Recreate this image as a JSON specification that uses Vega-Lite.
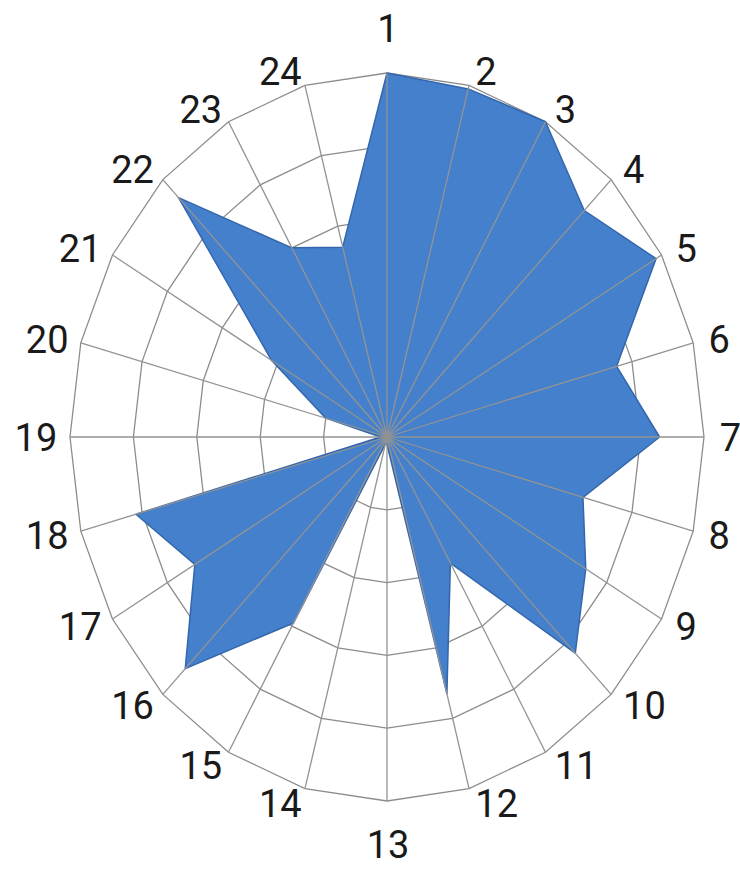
{
  "$schema": "https://vega.github.io/schema/vega-lite/v6.json",
  "width": 634,
  "height": 728,
  "autosize": {"type": "none"},
  "padding": {"left": 70, "top": 73, "right": 36, "bottom": 69},
  "background": "white",
  "config": {"view": {"stroke": null}},
  "datasets": {
    "series": [
      {"spoke": 1, "value": 5},
      {"spoke": 2, "value": 4.95},
      {"spoke": 3, "value": 5},
      {"spoke": 4, "value": 4.4},
      {"spoke": 5, "value": 4.9},
      {"spoke": 6, "value": 3.75},
      {"spoke": 7, "value": 4.3},
      {"spoke": 8, "value": 3.2},
      {"spoke": 9, "value": 3.62},
      {"spoke": 10, "value": 4.2},
      {"spoke": 11, "value": 2.0},
      {"spoke": 12, "value": 3.65},
      {"spoke": 13, "value": 0.1},
      {"spoke": 14, "value": 0.1},
      {"spoke": 15, "value": 2.95},
      {"spoke": 16, "value": 4.5},
      {"spoke": 17, "value": 3.5},
      {"spoke": 18, "value": 4.1},
      {"spoke": 19, "value": 0.1},
      {"spoke": 20, "value": 1.0},
      {"spoke": 21, "value": 2.1},
      {"spoke": 22, "value": 4.65},
      {"spoke": 23, "value": 3.0},
      {"spoke": 24, "value": 2.7}
    ],
    "rings": [
      {"ring": 1, "spoke": [1,2,3,4,5,6,7,8,9,10,11,12,13,14,15,16,17,18,19,20,21,22,23,24,25]},
      {"ring": 2, "spoke": [1,2,3,4,5,6,7,8,9,10,11,12,13,14,15,16,17,18,19,20,21,22,23,24,25]},
      {"ring": 3, "spoke": [1,2,3,4,5,6,7,8,9,10,11,12,13,14,15,16,17,18,19,20,21,22,23,24,25]},
      {"ring": 4, "spoke": [1,2,3,4,5,6,7,8,9,10,11,12,13,14,15,16,17,18,19,20,21,22,23,24,25]},
      {"ring": 5, "spoke": [1,2,3,4,5,6,7,8,9,10,11,12,13,14,15,16,17,18,19,20,21,22,23,24,25]}
    ],
    "spokes": [
      {"spoke": 1, "r": [0, 5]}, {"spoke": 2, "r": [0, 5]}, {"spoke": 3, "r": [0, 5]},
      {"spoke": 4, "r": [0, 5]}, {"spoke": 5, "r": [0, 5]}, {"spoke": 6, "r": [0, 5]},
      {"spoke": 7, "r": [0, 5]}, {"spoke": 8, "r": [0, 5]}, {"spoke": 9, "r": [0, 5]},
      {"spoke": 10, "r": [0, 5]}, {"spoke": 11, "r": [0, 5]}, {"spoke": 12, "r": [0, 5]},
      {"spoke": 13, "r": [0, 5]}, {"spoke": 14, "r": [0, 5]}, {"spoke": 15, "r": [0, 5]},
      {"spoke": 16, "r": [0, 5]}, {"spoke": 17, "r": [0, 5]}, {"spoke": 18, "r": [0, 5]},
      {"spoke": 19, "r": [0, 5]}, {"spoke": 20, "r": [0, 5]}, {"spoke": 21, "r": [0, 5]},
      {"spoke": 22, "r": [0, 5]}, {"spoke": 23, "r": [0, 5]}, {"spoke": 24, "r": [0, 5]}
    ]
  },
  "layer": [
    {
      "data": {"name": "rings"},
      "transform": [
        {"flatten": ["spoke"]},
        {"calculate": "(datum.spoke - 1) * PI / 12", "as": "a"},
        {"calculate": "datum.ring * sin(datum.a)", "as": "px"},
        {"calculate": "datum.ring * cos(datum.a)", "as": "py"}
      ],
      "mark": {"type": "line", "stroke": "#8c8c8c", "strokeWidth": 1.3},
      "encoding": {
        "x": {"field": "px", "type": "quantitative", "scale": {"domain": [-5, 5], "nice": false, "zero": false}, "axis": null},
        "y": {"field": "py", "type": "quantitative", "scale": {"domain": [-5, 5], "nice": false, "zero": false}, "axis": null},
        "detail": {"field": "ring", "type": "nominal"},
        "order": {"field": "spoke", "type": "quantitative"}
      }
    },
    {
      "data": {"name": "series"},
      "transform": [
        {"calculate": "(datum.spoke - 1) * PI / 12", "as": "a"},
        {"calculate": "datum.value * sin(datum.a)", "as": "px"},
        {"calculate": "datum.value * cos(datum.a)", "as": "py"}
      ],
      "mark": {"type": "line", "interpolate": "linear-closed", "fill": "#4480cc", "stroke": "#3466ac", "strokeWidth": 1.5, "strokeJoin": "round"},
      "encoding": {
        "x": {"field": "px", "type": "quantitative", "scale": {"domain": [-5, 5], "nice": false, "zero": false}, "axis": null},
        "y": {"field": "py", "type": "quantitative", "scale": {"domain": [-5, 5], "nice": false, "zero": false}, "axis": null},
        "order": {"field": "spoke", "type": "quantitative"}
      }
    },
    {
      "data": {"name": "spokes"},
      "transform": [
        {"flatten": ["r"]},
        {"calculate": "(datum.spoke - 1) * PI / 12", "as": "a"},
        {"calculate": "datum.r * sin(datum.a)", "as": "px"},
        {"calculate": "datum.r * cos(datum.a)", "as": "py"}
      ],
      "mark": {"type": "line", "stroke": "#939393", "strokeWidth": 1.3},
      "encoding": {
        "x": {"field": "px", "type": "quantitative", "scale": {"domain": [-5, 5], "nice": false, "zero": false}, "axis": null},
        "y": {"field": "py", "type": "quantitative", "scale": {"domain": [-5, 5], "nice": false, "zero": false}, "axis": null},
        "detail": {"field": "spoke", "type": "nominal"},
        "order": {"field": "r", "type": "quantitative"}
      }
    },
    {
      "data": {"name": "series"},
      "transform": [
        {"filter": "datum.spoke >= 2 && datum.spoke <= 12"},
        {"calculate": "(datum.spoke - 1) * PI / 12", "as": "a"},
        {"calculate": "5.2 * sin(datum.a)", "as": "px"},
        {"calculate": "5.2 * cos(datum.a)", "as": "py"}
      ],
      "mark": {"type": "text", "align": "left", "baseline": "middle", "dx": 3, "dy": 3, "font": "Roboto", "fontSize": 38, "color": "#1a1a1a"},
      "encoding": {
        "x": {"field": "px", "type": "quantitative", "scale": {"domain": [-5, 5], "nice": false, "zero": false}, "axis": null},
        "y": {"field": "py", "type": "quantitative", "scale": {"domain": [-5, 5], "nice": false, "zero": false}, "axis": null},
        "text": {"field": "spoke", "type": "nominal"}
      }
    },
    {
      "data": {"name": "series"},
      "transform": [
        {"filter": "datum.spoke >= 14"},
        {"calculate": "(datum.spoke - 1) * PI / 12", "as": "a"},
        {"calculate": "5.2 * sin(datum.a)", "as": "px"},
        {"calculate": "5.2 * cos(datum.a)", "as": "py"}
      ],
      "mark": {"type": "text", "align": "right", "baseline": "middle", "dx": 0, "dy": 3, "font": "Roboto", "fontSize": 38, "color": "#1a1a1a"},
      "encoding": {
        "x": {"field": "px", "type": "quantitative", "scale": {"domain": [-5, 5], "nice": false, "zero": false}, "axis": null},
        "y": {"field": "py", "type": "quantitative", "scale": {"domain": [-5, 5], "nice": false, "zero": false}, "axis": null},
        "text": {"field": "spoke", "type": "nominal"}
      }
    },
    {
      "data": {"name": "series"},
      "transform": [
        {"filter": "datum.spoke == 1 || datum.spoke == 13"},
        {"calculate": "(datum.spoke - 1) * PI / 12", "as": "a"},
        {"calculate": "5.6 * sin(datum.a)", "as": "px"},
        {"calculate": "5.6 * cos(datum.a)", "as": "py"}
      ],
      "mark": {"type": "text", "align": "center", "baseline": "middle", "dx": 1, "dy": 2, "font": "Roboto", "fontSize": 38, "color": "#1a1a1a"},
      "encoding": {
        "x": {"field": "px", "type": "quantitative", "scale": {"domain": [-5, 5], "nice": false, "zero": false}, "axis": null},
        "y": {"field": "py", "type": "quantitative", "scale": {"domain": [-5, 5], "nice": false, "zero": false}, "axis": null},
        "text": {"field": "spoke", "type": "nominal"}
      }
    }
  ]
}
